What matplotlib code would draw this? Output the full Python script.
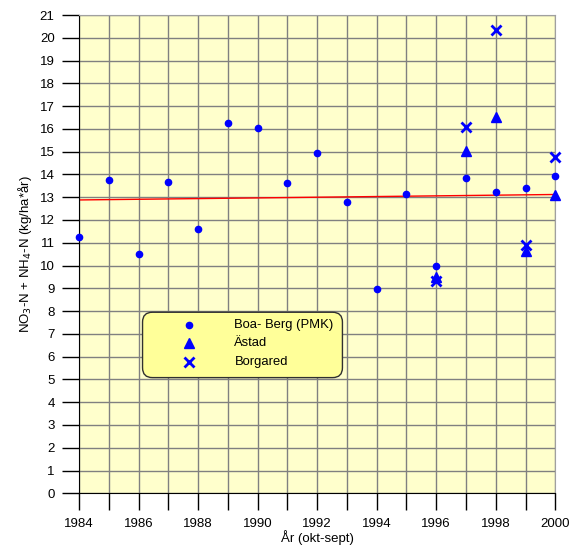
import matplotlib
matplotlib.use("Agg")
import matplotlib.pyplot as plt
from matplotlib.patches import FancyBboxPatch

plt.rcParams['font.family'] = ['Liberation Sans', 'DejaVu Sans']

years_boa = [1984, 1985, 1986, 1987, 1988, 1989, 1990, 1991, 1992, 1993, 1994, 1995, 1996, 1997, 1998, 1999, 2000]
boa = [11.24, 13.74, 10.49, 13.68, 11.59, 16.26, 16.05, 13.64, 14.94, 12.77, 8.96, 13.14, 9.96, 13.85, 13.21, 13.39, 13.93]

years_astad = [1996, 1997, 1998, 1999, 2000]
astad = [9.5, 15.03, 16.53, 10.65, 13.1]

years_borg = [1996, 1997, 1998, 1999, 2000]
borg = [9.3, 16.08, 20.35, 10.9, 14.78]

trend_years = [1984, 2000]
trend = [12.88, 13.12]

xticks = list(range(1984, 2001, 2))
yticks = list(range(0, 22))

fig = plt.figure(figsize=(5.74, 5.46), dpi=100)
ax = fig.add_axes([0.1376, 0.0965, 0.8298, 0.876])
ax.set_facecolor('#FFFFCC')
ax.set_xlim(1984, 2000)
ax.set_ylim(0, 21)

ax.set_xticks(list(range(1984, 2001)))
ax.set_xticklabels([str(y) if y in xticks else '' for y in range(1984, 2001)])
ax.set_yticks(yticks)
ax.set_yticklabels([str(v) for v in yticks])
ax.grid(True, color='#808080', linewidth=1.0, zorder=0)
ax.set_axisbelow(True)
ax.tick_params(axis='x', direction='out', length=12, width=1.0, color='black', labelsize=9.5, pad=6)
ax.tick_params(axis='y', direction='out', length=12.5, width=1.0, color='black', labelsize=9.5, pad=5)

for s in ['top', 'right']:
    ax.spines[s].set_color('#A0A0A0')
for s in ['left', 'bottom']:
    ax.spines[s].set_color('black')

ax.plot(trend_years, trend, color='#FF0000', linewidth=1.0, zorder=2)
ax.plot(years_boa, boa, 'o', color='#0000FF', markersize=4.5, zorder=3, clip_on=False)
ax.plot(years_astad, astad, '^', color='#0000FF', markersize=7, zorder=3, clip_on=False)
ax.plot(years_borg, borg, 'x', color='#0000FF', markersize=7.5, markeredgewidth=2, zorder=4, clip_on=False)

ax.set_xlabel('År (okt-sept)', fontsize=9.5, labelpad=0)
ax.set_ylabel('NO$_3$-N + NH$_4$-N (kg/ha*år)', fontsize=9.5, labelpad=4)

# Legend box
x0, y0, x1, y1 = 1986.135, 5.08, 1992.85, 7.95
legbox = FancyBboxPatch((x0, y0), x1 - x0, y1 - y0, boxstyle='round,pad=0,rounding_size=0.33',
                        mutation_aspect=1.31, facecolor='#FFFF99', edgecolor='#303030',
                        linewidth=1.0, zorder=5)
ax.add_patch(legbox)
labels = ['Boa- Berg (PMK)', 'Ästad', 'Borgared']
markers = [('o', 4.5, 1), ('^', 7, 1), ('x', 7.5, 2)]
ly = [7.39, 6.58, 5.75]
for lab, (m, ms, mew), yy in zip(labels, markers, ly):
    ax.plot([1987.68], [yy], m, color='#0000FF', markersize=ms, markeredgewidth=mew, zorder=6)
    ax.text(1989.22, yy, lab, fontsize=9.4, va='center', ha='left', zorder=6)

fig.savefig('out.png', dpi=100)
